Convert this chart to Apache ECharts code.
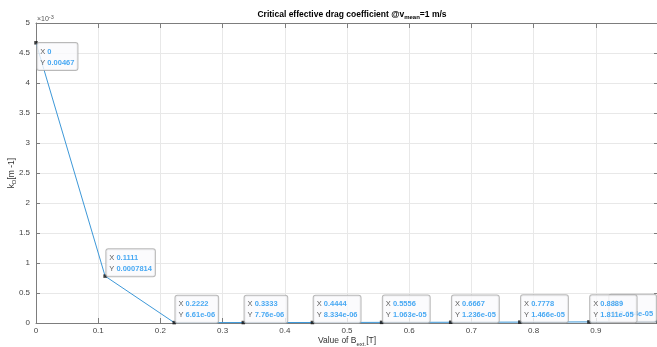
<!DOCTYPE html>
<html><head><meta charset="utf-8">
<script src="https://cdn.jsdelivr.net/npm/echarts@6/dist/echarts.min.js"></script>
<style>html,body{margin:0;padding:0;background:#fff}#c{width:657px;height:347px}</style>
</head><body><div id="c"></div>
<script>
// ---- data ----
var xVals = [0, 0.1111, 0.2222, 0.3333, 0.4444, 0.5556, 0.6667, 0.7778, 0.8889, 1];
var yVals = [0.00467, 0.0007814, 6.61e-06, 7.76e-06, 8.334e-06, 1.063e-05, 1.236e-05, 1.466e-05, 1.811e-05, 2.304e-05];
var xTicks = [0, 0.1, 0.2, 0.3, 0.4, 0.5, 0.6, 0.7, 0.8, 0.9, 1];
var yTickLabels = ['0', '0.5', '1', '1.5', '2', '2.5', '3', '3.5', '4', '4.5', '5'];
var titleText = 'Critical effective drag coefficient @v';
var FONT = '"Liberation Sans", Arial, sans-serif';

function g4(v) {
  if (v === 0) return '0';
  var e = Math.floor(Math.log10(Math.abs(v)));
  if (e < -4 || e >= 5) {
    var s = v.toExponential(3).replace(/\.?0+e/, 'e');
    return s.replace(/e([+-])(\d)$/, 'e$10$2');
  }
  return String(Number(v.toPrecision(4)));
}

var tipLabel = {
  show: true,
  formatter: function (p) {
    return '{k|X }{v|' + g4(p.value[0]) + '}\n{k|Y }{v|' + g4(p.value[1]) + '}';
  },
  backgroundColor: '#fafafc',
  borderColor: '#a8a8a8',
  borderWidth: 1,
  borderRadius: 2,
  padding: [3, 3, 2, 3],
  position: [3, 2],
  align: 'left',
  verticalAlign: 'bottom',
  rich: {
    k: { fontFamily: FONT, fontSize: 7.5, color: '#333', lineHeight: 11 },
    v: { fontFamily: FONT, fontSize: 7.5, color: '#1a94f0', fontWeight: 'bold', lineHeight: 11 }
  }
};

var tipData = [], lastData = [];
for (var i = 0; i < xVals.length; i++) {
  var item = { value: [xVals[i], yVals[i]] };
  if (i === 0) item.label = { verticalAlign: 'top', position: [3, 2] };
  if (i === xVals.length - 1) { item.label = { position: [-47, 2] }; lastData.push(item); }
  else tipData.push(item);
}

var chart = echarts.init(document.getElementById('c'));
chart.setOption({
  animation: false,
  backgroundColor: '#fff',
  title: {
    text: '{t|' + titleText + '}{s|mean}{t|=1 m/s}',
    left: 347, top: 4, textAlign: 'center',
    textStyle: {
      rich: {
        t: { fontFamily: FONT, fontSize: 8.5, fontWeight: 'bold', color: '#000' },
        s: { fontFamily: FONT, fontSize: 6, fontWeight: 'bold', color: '#000', verticalAlign: 'bottom', padding: [5, 0, 0, 0] }
      }
    }
  },
  graphic: [{
    type: 'text', left: 37, top: 14,
    style: { text: '{a|×10}{b|-3}', rich: {
      a: { fontFamily: FONT, fontSize: 7, fill: '#555' },
      b: { fontFamily: FONT, fontSize: 5.5, fill: '#555', verticalAlign: 'top', padding: [0, 0, 5, 0] }
    } }
  }],
  grid: { left: 36, top: 23, width: 622, height: 300, containLabel: false, outerBoundsMode: 'none' },
  xAxis: [{
    type: 'value', min: 0, max: 1, interval: 0.1,
    name: '{a|Value of B}{b|ext.}{a|[T]}', nameLocation: 'middle', nameGap: 13, nameMoveOverlap: false,
    nameTextStyle: { verticalAlign: 'top', rich: {
      a: { fontFamily: FONT, fontSize: 8.5, color: '#333', verticalAlign: 'top' },
      b: { fontFamily: FONT, fontSize: 6, color: '#333', verticalAlign: 'top', padding: [5, 0, 0, 0] }
    } },
    axisLine: { show: true, onZero: false, lineStyle: { color: '#7d7d7d', width: 1 } },
    axisTick: { show: true, inside: true, length: 5, lineStyle: { color: '#7d7d7d' } },
    axisLabel: { fontFamily: FONT, fontSize: 8, color: '#444', margin: 4, showMaxLabel: false,
      formatter: function (v) { return String(Math.round(v * 10) / 10); } },
    splitLine: { show: true, lineStyle: { color: '#e8e8e8', width: 1 } }
  }, {
    type: 'value', position: 'top', min: 0, max: 1, interval: 0.1,
    axisLine: { show: true, onZero: false, lineStyle: { color: '#7d7d7d', width: 1 } },
    axisTick: { show: true, inside: true, length: 5, lineStyle: { color: '#7d7d7d' } },
    axisLabel: { show: false }, splitLine: { show: false }
  }],
  yAxis: [{
    type: 'value', min: 0, max: 0.005, interval: 0.0005,
    name: '{a|k}{b|D}{a|[m -1]}', nameLocation: 'middle', nameGap: 19, nameRotate: 90, nameMoveOverlap: false,
    nameTextStyle: { rich: {
      a: { fontFamily: FONT, fontSize: 8.5, color: '#333' },
      b: { fontFamily: FONT, fontSize: 6, color: '#333', verticalAlign: 'top', padding: [5, 0, 0, 0] }
    } },
    axisLine: { show: true, onZero: false, lineStyle: { color: '#7d7d7d', width: 1 } },
    axisTick: { show: true, inside: true, length: 4, lineStyle: { color: '#7d7d7d' } },
    axisLabel: { fontFamily: FONT, fontSize: 8, color: '#444', margin: 6,
      formatter: function (v) { return yTickLabels[Math.round(v / 0.0005)]; } },
    splitLine: { show: true, lineStyle: { color: '#e8e8e8', width: 1 } }
  }, {
    type: 'value', position: 'right', min: 0, max: 0.005, interval: 0.0005,
    axisLine: { show: true, onZero: false, lineStyle: { color: '#7d7d7d', width: 1 } },
    axisTick: { show: true, inside: true, length: 4, lineStyle: { color: '#7d7d7d' } },
    axisLabel: { show: false }, splitLine: { show: false }
  }],
  series: [{
    type: 'line', data: xVals.map(function (x, i) { return [x, yVals[i]]; }),
    showSymbol: false, symbol: 'none', clip: false,
    lineStyle: { color: '#3d98d8', width: 1 }, z: 3
  }, {
    type: 'scatter', data: lastData, symbol: 'rect', symbolSize: 3.5, clip: false,
    itemStyle: { color: '#111' }, label: tipLabel, z: 4, zlevel: 0
  }, {
    type: 'scatter', data: tipData, symbol: 'rect', symbolSize: 3.5, clip: false,
    itemStyle: { color: '#111' }, label: tipLabel, z: 5, zlevel: 1
  }]
});
</script>
</body></html>
